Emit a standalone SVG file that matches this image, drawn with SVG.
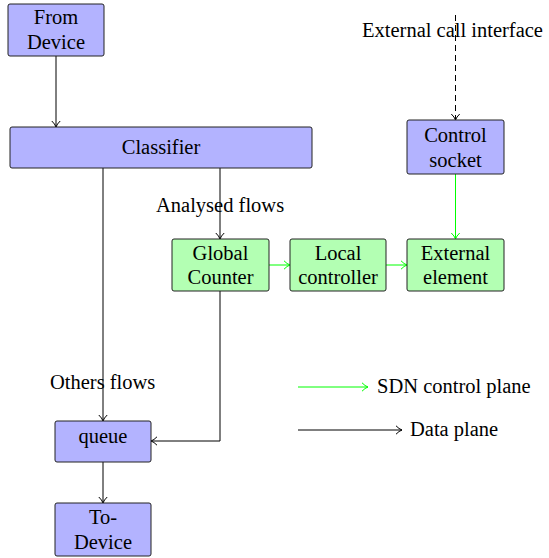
<svg xmlns="http://www.w3.org/2000/svg" width="549" height="558" viewBox="0 0 549 558">
<defs>
<marker id="ab" markerWidth="10" markerHeight="10" refX="7.5" refY="5" orient="auto" markerUnits="userSpaceOnUse"><path d="M1.5,0.8 Q4.5,4 7.5,5 Q4.5,6 1.5,9.2" fill="none" stroke="#000" stroke-width="1"/></marker>
<marker id="ag" markerWidth="10" markerHeight="10" refX="7.5" refY="5" orient="auto" markerUnits="userSpaceOnUse"><path d="M1.5,0.8 Q4.5,4 7.5,5 Q4.5,6 1.5,9.2" fill="none" stroke="#00ff00" stroke-width="1"/></marker>
</defs>
<style>
.c{text-anchor:middle}
.b{fill:#b3b3ff;stroke:#222;stroke-width:1}
.g{fill:#b3ffb3;stroke:#222;stroke-width:1}
.k{stroke:#000;stroke-width:1;fill:none;marker-end:url(#ab)}
.gr{stroke:#00ff00;stroke-width:1;fill:none;marker-end:url(#ag)}
</style>
<rect width="549" height="558" fill="#fff"/>
<g id="connectors">
<path class="k" d="M56,56V127"/>
<path class="k" d="M220,168V239"/>
<path class="k" d="M103,168V421"/>
<path class="k" d="M220,291V441H151"/>
<path class="k" d="M103,462V503"/>
<path class="k" d="M455.5,15V120" stroke-dasharray="6,4"/>
<path class="gr" d="M455.5,174V239"/>
<path class="gr" d="M269,265H290"/>
<path class="gr" d="M386,265H407"/>
</g>
<g font-family="Liberation Serif, DejaVu Serif, serif" font-size="20.5" fill="#000">
<g id="from-device"><rect class="b" x="8" y="4" width="96" height="52" rx="2"/><text class="c" x="56" y="24">From</text><text class="c" x="56" y="49">Device</text></g>
<g id="classifier"><rect class="b" x="10" y="127" width="302" height="41" rx="2"/><text class="c" x="161" y="154">Classifier</text></g>
<g id="control-socket"><rect class="b" x="407" y="120" width="97" height="54" rx="2"/><text class="c" x="455.5" y="142">Control</text><text class="c" x="455.5" y="167">socket</text></g>
<g id="global-counter"><rect class="g" x="172" y="239" width="97" height="52" rx="2"/><text class="c" x="220.5" y="260">Global</text><text class="c" x="220.5" y="284">Counter</text></g>
<g id="local-controller"><rect class="g" x="290" y="239" width="96" height="52" rx="2"/><text class="c" x="338" y="260">Local</text><text class="c" x="338" y="284">controller</text></g>
<g id="external-element"><rect class="g" x="407" y="239" width="97" height="52" rx="2"/><text class="c" x="455.5" y="260">External</text><text class="c" x="455.5" y="284">element</text></g>
<g id="queue"><rect class="b" x="55" y="421" width="96" height="41" rx="2"/><text class="c" x="103" y="443">queue</text></g>
<g id="to-device"><rect class="b" x="55" y="503" width="96" height="53" rx="2"/><text class="c" x="103" y="524">To-</text><text class="c" x="103" y="549">Device</text></g>
<g id="labels">
<text x="362" y="37">External call interface</text>
<text x="156" y="212">Analysed flows</text>
<text x="50" y="389">Others flows</text>
</g>
<g id="legend">
<path class="gr" d="M298,387H368"/>
<text x="377" y="393">SDN control plane</text>
<path class="k" d="M298,430H402"/>
<text x="410" y="436">Data plane</text>
</g>
</g>
</svg>
